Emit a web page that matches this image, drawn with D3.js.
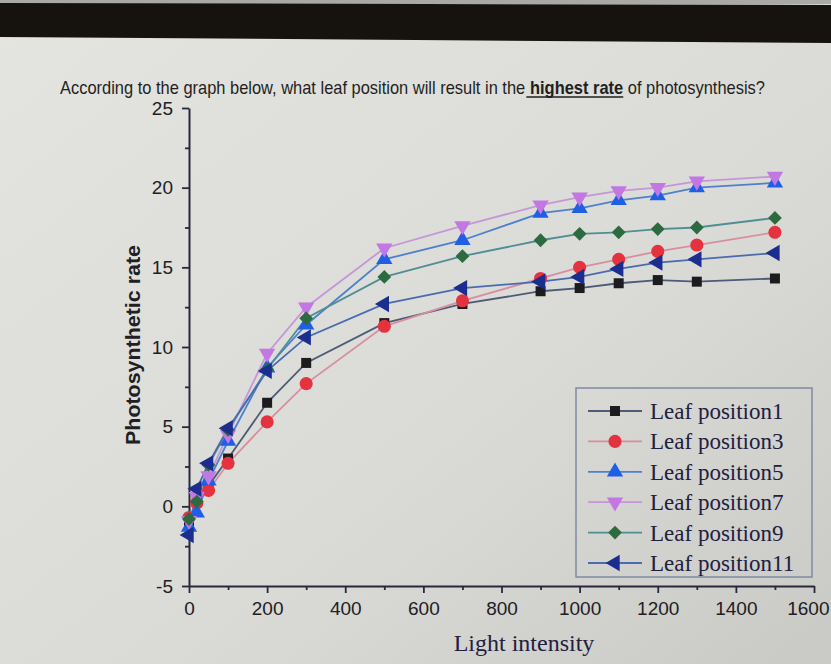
<!DOCTYPE html>
<html><head><meta charset="utf-8">
<script src="https://cdn.jsdelivr.net/npm/d3@7"></script>
<style>body{margin:0;background:#d9d9d5;} svg{display:block}</style>
</head><body><svg id="c" width="831" height="664"></svg>
<script>
// ---- data ----
const lightIntensity = [0, 20, 50, 100, 200, 300, 500, 700, 900, 1000, 1100, 1200, 1300, 1500];
const seriesNames = ["Leaf position1", "Leaf position3", "Leaf position5", "Leaf position7", "Leaf position9", "Leaf position11"];
const leafPosition1  = [-1.0, 0.3, 1.3, 3.0, 6.5, 9.0, 11.5, 12.7, 13.5, 13.7, 14.0, 14.2, 14.1, 14.3];
const leafPosition3  = [-0.7, 0.2, 1.0, 2.7, 5.3, 7.7, 11.3, 12.9, 14.3, 15.0, 15.5, 16.0, 16.4, 17.2];
const leafPosition5  = [-1.3, -0.4, 1.6, 4.1, 8.7, 11.4, 15.5, 16.7, 18.4, 18.7, 19.2, 19.5, 20.0, 20.3];
const leafPosition7  = [-0.9, 0.6, 1.9, 4.5, 9.6, 12.5, 16.2, 17.6, 18.9, 19.4, 19.8, 20.0, 20.4, 20.7];
const leafPosition9  = [-0.8, 0.3, 2.6, 4.8, 8.6, 11.8, 14.4, 15.7, 16.7, 17.1, 17.2, 17.4, 17.5, 18.1];
const leafPosition11 = [-1.8, 1.1, 2.7, 4.9, 8.5, 10.6, 12.7, 13.7, 14.1, 14.4, 14.9, 15.3, 15.5, 15.9];
const xTicks = [0, 200, 400, 600, 800, 1000, 1200, 1400, 1600];
const xMinorTicks = [100, 300, 500, 700, 900, 1100, 1300, 1500];
const yTicks = [-5, 0, 5, 10, 15, 20, 25];
const yMinorTicks = [-2.5, 2.5, 7.5, 12.5, 17.5, 22.5];
const titleParts = ["According to the graph below, what leaf position will result in the", "highest rate", "of photosynthesis?"];
const xTitle = "Light intensity";
const yTitle = "Photosynthetic rate";

const allSeries = [leafPosition1, leafPosition3, leafPosition5, leafPosition7, leafPosition9, leafPosition11];

// ---- styles ----
const styles = [
  {sym: d3.symbolSquare,   size: 100, rot: 0,   fill: "#1c1c1e", line: "#4d5a78"},
  {sym: d3.symbolCircle,   size: 135, rot: 0,   fill: "#e5323f", line: "#d78fa0"},
  {sym: d3.symbolTriangle, size: 115, rot: 0,   fill: "#1f5fe6", line: "#4f7fcf"},
  {sym: d3.symbolTriangle, size: 115, rot: 180, fill: "#c277e3", line: "#c596d8"},
  {sym: d3.symbolSquare,   size: 95,  rot: 45,  fill: "#2b6b3f", line: "#4f8f94"},
  {sym: d3.symbolTriangle, size: 115, rot: -90, fill: "#1b2d8f", line: "#4a6bb0"}
];

const svg = d3.select("#c");

// background
const defs = svg.append("defs");
const g1 = defs.append("linearGradient").attr("id", "bg").attr("x1", "0").attr("y1", "0").attr("x2", "1").attr("y2", "1");
g1.append("stop").attr("offset", "0").attr("stop-color", "#e4e4e0");
g1.append("stop").attr("offset", "0.6").attr("stop-color", "#dadad6");
g1.append("stop").attr("offset", "1").attr("stop-color", "#c9c9c5");
svg.append("rect").attr("width", 831).attr("height", 664).attr("fill", "url(#bg)");
svg.append("rect").attr("x", 0).attr("y", 0).attr("width", 831).attr("height", 4).attr("fill", "#a9a9a7");
svg.append("polygon").attr("points", "0,3 831,5 831,43 0,37").attr("fill", "#16130f");

// title: three pieces placed one after another, then squeezed to the reference width
const titleFont = "'Liberation Sans Narrow', 'Liberation Sans', Arial, sans-serif";
const tg = svg.append("g");
let cursor = 0;
const space = 5;
const pieces = [];
titleParts.forEach((t, i) => {
  const el = tg.append("text").attr("x", cursor).attr("y", 0)
    .attr("font-family", titleFont).attr("font-size", 18).attr("fill", "#1f1f22")
    .attr("font-weight", i === 1 ? "bold" : "normal").text(t);
  const w = el.node().getComputedTextLength();
  pieces.push({start: cursor, w});
  cursor += w + space;
});
const totalW = cursor - space;
// underline from just after "the" through "rate"
tg.append("line").attr("x1", pieces[0].start + pieces[0].w + 1).attr("x2", pieces[1].start + pieces[1].w)
  .attr("y1", 3).attr("y2", 3).attr("stroke", "#1f1f22").attr("stroke-width", 1.6);
tg.attr("transform", `translate(60,94) scale(${705 / totalW},1)`);

// scales
const x = d3.scaleLinear().domain([0, 1600]).range([189, 814]);
const y = d3.scaleLinear().domain([-5, 25]).range([586, 108]);

const axisColor = "#27283c";
const tickFont = "'Liberation Sans', Arial, sans-serif";

// y axis
const yAx = svg.append("g").attr("transform", `translate(${x(0)},0)`)
  .call(d3.axisLeft(y).tickValues(yTicks).tickSize(7).tickSizeOuter(0).tickPadding(9).tickFormat(d => String(d)));
const yMin = svg.append("g").attr("transform", `translate(${x(0)},0)`)
  .call(d3.axisLeft(y).tickValues(yMinorTicks).tickSize(4).tickSizeOuter(0).tickFormat(""));
// x axis
const xAx = svg.append("g").attr("transform", `translate(0,${y(-5)})`)
  .call(d3.axisBottom(x).tickValues(xTicks).tickSize(7).tickSizeOuter(0).tickPadding(9).tickFormat(d => String(d)));
const xMin = svg.append("g").attr("transform", `translate(0,${y(-5)})`)
  .call(d3.axisBottom(x).tickValues(xMinorTicks).tickSize(4).tickSizeOuter(0).tickFormat(""));
[yAx, yMin, xAx, xMin].forEach(g => {
  g.select(".domain").attr("stroke", axisColor).attr("stroke-width", 2);
  g.selectAll(".tick line").attr("stroke", axisColor).attr("stroke-width", 1.8);
  g.selectAll(".tick text").attr("fill", "#202024").attr("font-family", tickFont).attr("font-size", 19);
});
yMin.select(".domain").remove();
xMin.select(".domain").remove();
// keep the last x label inside the picture
xAx.selectAll(".tick text").filter(d => d === 1600).attr("text-anchor", "end").attr("dx", "15");

// axis titles
svg.append("text").attr("transform", "translate(140,345) rotate(-90)")
  .attr("text-anchor", "middle").attr("font-family", tickFont).attr("font-weight", "bold")
  .attr("font-size", 20).attr("fill", "#202024")
  .attr("textLength", 200).attr("lengthAdjust", "spacingAndGlyphs").text(yTitle);
svg.append("text").attr("x", 524).attr("y", 651).attr("text-anchor", "middle")
  .attr("font-family", "'Liberation Serif', 'Times New Roman', serif").attr("font-size", 24)
  .attr("fill", "#1e2040").text(xTitle);

// lines
const line = d3.line().x((d, i) => x(lightIntensity[i])).y(d => y(d));
allSeries.forEach((s, k) => {
  svg.append("path").datum(s).attr("d", line).attr("fill", "none")
    .attr("stroke", styles[k].line).attr("stroke-width", 1.8);
});
// markers
allSeries.forEach((s, k) => {
  const st = styles[k];
  svg.append("g").selectAll("path").data(s).join("path")
    .attr("d", d3.symbol().type(st.sym).size(st.size))
    .attr("transform", (d, i) => `translate(${x(lightIntensity[i])},${y(d)}) rotate(${st.rot})`)
    .attr("fill", st.fill);
});

// legend
const lg = svg.append("g");
lg.append("rect").attr("x", 576).attr("y", 388).attr("width", 236).attr("height", 189)
  .attr("fill", "none").attr("stroke", "#7f8aa2").attr("stroke-width", 1.5);
seriesNames.forEach((name, k) => {
  const st = styles[k];
  const cy = 411 + k * 30.4;
  lg.append("line").attr("x1", 588).attr("x2", 642).attr("y1", cy).attr("y2", cy)
    .attr("stroke", st.line).attr("stroke-width", 1.8);
  lg.append("path").attr("d", d3.symbol().type(st.sym).size(st.size))
    .attr("transform", `translate(615,${cy}) rotate(${st.rot})`).attr("fill", st.fill);
  lg.append("text").attr("x", 650).attr("y", cy + 8)
    .attr("font-family", "'Liberation Serif', 'Times New Roman', serif").attr("font-size", 23)
    .attr("fill", "#1e2040").text(name);
});
</script></body></html>
